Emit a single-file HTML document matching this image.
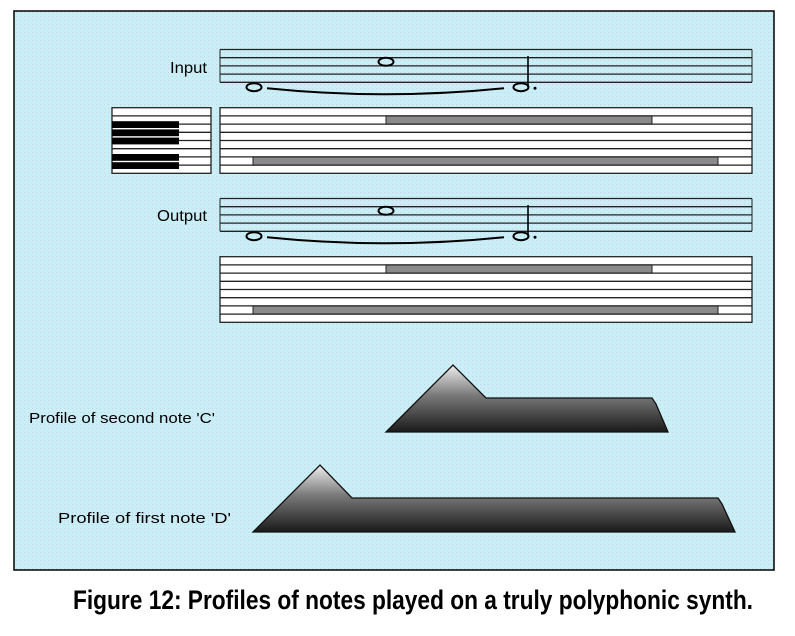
<!DOCTYPE html>
<html><head><meta charset="utf-8"><style>
html,body{margin:0;padding:0;background:#fff;width:795px;height:636px;overflow:hidden}
svg{display:block}
text{font-family:"Liberation Sans",Arial,sans-serif}
</style></head><body>
<svg id="fig" width="795" height="636" viewBox="0 0 795 636" xmlns="http://www.w3.org/2000/svg">
<defs>
<pattern id="bgp" width="4" height="4" patternUnits="userSpaceOnUse">
<rect width="4" height="4" fill="#c8eff6"/><rect x="0" y="0" width="1" height="1" fill="#d4cdea"/>
</pattern>
<linearGradient id="g1" gradientUnits="userSpaceOnUse" x1="0" y1="365" x2="0" y2="432">
<stop offset="0" stop-color="#eeeeee"/><stop offset="0.45" stop-color="#7a7a7a"/><stop offset="1" stop-color="#1a1a1a"/></linearGradient>
<linearGradient id="g2" gradientUnits="userSpaceOnUse" x1="0" y1="465" x2="0" y2="532">
<stop offset="0" stop-color="#eeeeee"/><stop offset="0.45" stop-color="#7a7a7a"/><stop offset="1" stop-color="#1a1a1a"/></linearGradient>
</defs>
<rect x="14" y="11" width="760" height="559" fill="url(#bgp)" stroke="#000" stroke-width="1.5"/>
<g id="content"></g>
<text x="170" y="73" font-size="16" textLength="37" lengthAdjust="spacingAndGlyphs">Input</text>
<text x="157" y="221" font-size="16" textLength="50" lengthAdjust="spacingAndGlyphs">Output</text>
<text x="29" y="423" font-size="15" textLength="186" lengthAdjust="spacingAndGlyphs">Profile of second note 'C'</text>
<text x="58" y="523" font-size="15" textLength="173" lengthAdjust="spacingAndGlyphs">Profile of first note 'D'</text>
<text x="73" y="609" font-size="27" font-weight="bold" font-family="Liberation Sans Narrow, Liberation Sans, sans-serif" textLength="680" lengthAdjust="spacingAndGlyphs">Figure 12: Profiles of notes played on a truly polyphonic synth.</text>
</svg>
<script>
// data
const noteStarts = [386, 253];      // x start of each note bar (second C, first D)
const noteEnds = [652, 718];        // x end of each note bar
const noteRows = [1, 6];            // piano-roll row index
const peakX = [453, 320];           // attack peak x
const shoulderX = [486, 352];       // decay end x
const releaseEnd = [668, 735];      // release end x
const profileBase = [432, 532];
const keyRows = [1, 2, 3, 5, 6];    // black keys rows on keyboard

const NS = "http://www.w3.org/2000/svg";
const root = document.getElementById('content');
function mk(tag, attrs, parent) {
  const e = document.createElementNS(NS, tag);
  for (const k in attrs) e.setAttribute(k, attrs[k]);
  (parent || root).appendChild(e);
  return e;
}
function staff(top, name) {
  const g = mk('g', {});
  
  
  const sp = 8.2;
  for (let i = 0; i < 5; i++) mk('line', {x1: 220, x2: 752, y1: top + i * sp, y2: top + i * sp, stroke: '#222', 'stroke-width': 1.3}, g);
  mk('line', {x1: 220, x2: 220, y1: top, y2: top + 4 * sp, stroke: '#222', 'stroke-width': 1}, g);
  mk('line', {x1: 752, x2: 752, y1: top, y2: top + 4 * sp, stroke: '#222', 'stroke-width': 1}, g);
  const yTop = top + 1.5 * sp, yLow = top + 4.6 * sp;
  const n1 = mk('ellipse', {cx: noteStarts[0], cy: yTop, rx: 7.5, ry: 4, fill: 'none', stroke: '#000', 'stroke-width': 2}, g);
  
  
  const n2 = mk('ellipse', {cx: noteStarts[1] + 1, cy: yLow, rx: 7.5, ry: 4, fill: 'none', stroke: '#000', 'stroke-width': 2}, g);
  
  
  const tie = mk('path', {d: `M${noteStarts[1] + 14} ${yLow + 1} Q 385 ${yLow + 13} 504 ${yLow + 1}`, fill: 'none', stroke: '#000', 'stroke-width': 2}, g);
  
  
  const n3 = mk('ellipse', {cx: 521, cy: yLow, rx: 7.5, ry: 4, fill: 'none', stroke: '#000', 'stroke-width': 2}, g);
  
  
  mk('line', {x1: 528, x2: 528, y1: top + 0.8 * sp, y2: yLow, stroke: '#000', 'stroke-width': 1.6}, g);
  mk('circle', {cx: 535, cy: yLow + 1, r: 1.5, fill: '#000'}, g);
}
function roll(top, x0, x1, name, bars) {
  const g = mk('g', {});
  
  
  const h = 65.6, rh = h / 8;
  mk('rect', {x: x0, y: top, width: x1 - x0, height: h, fill: '#fff', stroke: '#222', 'stroke-width': 1.3}, g);
  if (bars) {
    for (let i = 0; i < noteStarts.length; i++) {
      const b = mk('rect', {x: noteStarts[i], y: top + noteRows[i] * rh, width: noteEnds[i] - noteStarts[i], height: rh, fill: '#8a8a8a', stroke: '#222', 'stroke-width': 1});
      g.appendChild(b);
      
      
    }
  }
  for (let i = 1; i < 8; i++) mk('line', {x1: x0, x2: x1, y1: top + i * rh, y2: top + i * rh, stroke: '#222', 'stroke-width': 1.3}, g);
  if (!bars) {
    for (const r of keyRows) {
      const k = mk('rect', {x: x0, y: top + r * rh + 5.3, width: 67, height: 6.8, fill: '#000'}, g);
      
      
    }
  }
}
staff(49.5, 'input-staff');
roll(107.7, 112, 211, 'keyboard', false);
roll(107.7, 220, 752, 'input-piano-roll', true);
staff(198.5, 'output-staff');
roll(256.7, 220, 752, 'output-piano-roll', true);
for (let i = 0; i < 2; i++) {
  const b = profileBase[i];
  const d = `M${noteStarts[i]} ${b} L${peakX[i]} ${b - 67} L${shoulderX[i]} ${b - 34} L${noteEnds[i]} ${b - 34} L${noteEnds[i] + 4} ${b - 28} L${releaseEnd[i]} ${b} Z`;
  const p = mk('path', {d: d, fill: `url(#g${i + 1})`, stroke: '#111', 'stroke-width': 1.3});
  
  
}
</script>
</body></html>
